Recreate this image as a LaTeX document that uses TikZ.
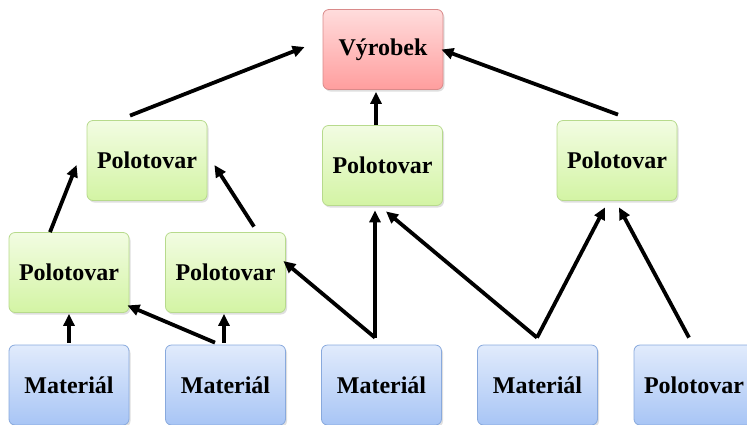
\documentclass[tikz,border=0pt]{standalone}
\usepackage{fontspec}
\setmainfont{Liberation Serif}
\usetikzlibrary{arrows.meta,shadows}
\definecolor{redtop}{HTML}{FFDCDC}\definecolor{redbot}{HTML}{FF9E9E}\definecolor{redline}{HTML}{D98A8A}
\definecolor{greentop}{HTML}{F2FCE2}\definecolor{greenbot}{HTML}{D3F4A4}\definecolor{greenline}{HTML}{B7DA8C}
\definecolor{bluetop}{HTML}{E1EBFC}\definecolor{bluebot}{HTML}{A8C5F5}\definecolor{blueline}{HTML}{88A9DD}
\tikzset{
  box/.style={rectangle,rounded corners=6pt,minimum width=120pt,minimum height=80pt,line width=.8pt,
    font=\bfseries\fontsize{24}{27}\selectfont,
    drop shadow={shadow xshift=1.5pt,shadow yshift=-2pt,opacity=.25}},
  redbox/.style={box,draw=redline,top color=redtop,bottom color=redbot},
  greenbox/.style={box,draw=greenline,top color=greentop,bottom color=greenbot},
  bluebox/.style={box,draw=blueline,top color=bluetop,bottom color=bluebot},
  link/.style={line width=3.8pt,-{Triangle[length=12pt,width=11pt]}}
}
\begin{document}
\begin{tikzpicture}[x=1pt,y=-1pt]
\useasboundingbox (0,0) rectangle (747,424);
\coordinate (v) at (383,49.5);
\coordinate (pa) at (147,160.5);\coordinate (pb) at (382.5,165.5);\coordinate (pc) at (617,160.5);
\coordinate (pd) at (69,272.5);\coordinate (pe) at (225.5,272.5);
\node[redbox] (V) at (v) {Výrobek};
\node[greenbox] (PA) at (pa) {Polotovar};\node[greenbox] (PB) at (pb) {Polotovar};\node[greenbox] (PC) at (pc) {Polotovar};
\node[greenbox] (PD) at (pd) {Polotovar};\node[greenbox] (PE) at (pe) {Polotovar};
\node[bluebox] (M1) at (69,385) {Materiál};\node[bluebox] (M2) at (225.5,385) {Materiál};
\node[bluebox] (M3) at (381.5,385) {Materiál};\node[bluebox] (M4) at (537.5,385) {Materiál};
\node[bluebox] (M5) at (694,385) {Polotovar};
% to the product
\draw[link] ([xshift=-17pt,yshift=4.5pt]PA.north) -- ([xshift=-18pt,yshift=2.5pt]V.west);
\draw[link] ([xshift=1pt,yshift=5.5pt]PC.north) -- ([xshift=-2pt]V.east);
\draw[link] ([xshift=-6.5pt]PB.north) -- ([xshift=-7pt,yshift=-2pt]V.south);
% second level
\draw[link] ([xshift=-19pt]PD.north) -- ([xshift=-10pt,yshift=-4.5pt]PA.west);
\draw[link] ([xshift=28.5pt,yshift=5.5pt]PE.north) -- ([xshift=7pt,yshift=-4.5pt]PA.east);
% from the materials
\draw[link] ([yshift=2pt]M1.north) -- ([yshift=-1pt]PD.south);
\draw[link] ([xshift=-1.5pt,yshift=2pt]M2.north) -- ([xshift=-1.5pt,yshift=-1pt]PE.south);
\draw[link] ([xshift=-10.5pt,yshift=2pt]M2.north) -- ([xshift=-2pt,yshift=7.5pt]PD.south east);
\draw[link] ([xshift=-6.5pt,yshift=7pt]M3.north) -- ([xshift=-2.5pt,yshift=11.5pt]PE.east);
\draw[link] ([xshift=-6.5pt,yshift=7pt]M3.north) -- ([xshift=-7.5pt,yshift=-4.5pt]PB.south);
\draw[link] ([xshift=-.5pt,yshift=7pt]M4.north) -- ([xshift=3.5pt,yshift=-5.5pt]PB.south);
\draw[link] ([xshift=-.5pt,yshift=7pt]M4.north) -- ([xshift=-12pt,yshift=-6.5pt]PC.south);
\draw[link] ([xshift=-5pt,yshift=7pt]M5.north) -- ([xshift=2pt,yshift=-6.5pt]PC.south);
\end{tikzpicture}
\end{document}
